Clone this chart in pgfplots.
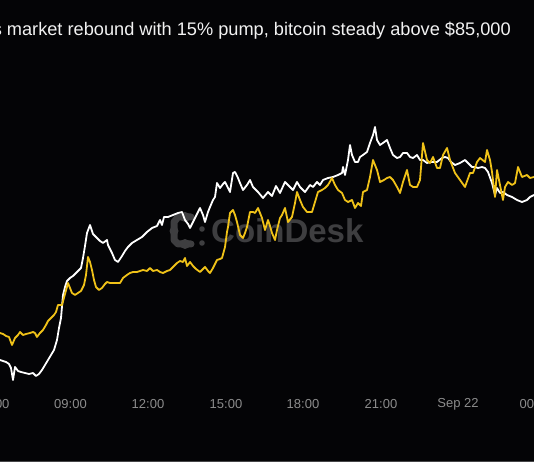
\documentclass[border=0pt]{standalone}
\usepackage{pgfplots}
\pgfplotsset{compat=1.18}
\usepackage{fontspec}
\setmainfont{Liberation Sans}
\definecolor{gold}{RGB}{240,194,24}
\definecolor{tickgray}{RGB}{140,140,140}
\definecolor{wm}{RGB}{62,62,64}
\definecolor{bg}{RGB}{4,4,6}
\pgfplotstableread{
x y
0 102
3 101
6 100
9 98
11 94
13 82
15 95
18 91
21 90
25 89
29 88
33 89
36 86
39 88
42 92
45 97
48 102
51 107
54 112
57 122
59 134
61 144
63 167
65 175
67 181
70 184
73 186
76 189
79 192
81 194
83 204
85 216
87 229
90 237
93 228
97 224
100 221
103 219
107 222
108 217
112 209
115 202
118 200
122 206
125 211
128 215
132 219
137 222
142 225
147 230
152 234
157 236
160 242
162 237
164 245
168 245
173 247
178 249
182 250
185 242
188 238
190 234
193 240
196 246
200 254
203 247
205 240
208 250
210 255
213 262
215 265
217 279
220 274
223 278
225 280
228 274
230 270
233 289
235 290
238 284
240 279
243 272
247 277
250 282
253 275
258 270
263 264
268 270
272 266
276 276
280 269
285 280
288 277
293 272
297 280
300 275
305 270
310 277
313 275
317 280
320 277
323 282
328 284
333 285
338 287
342 289
343 295
345 287
348 302
350 317
352 307
355 300
358 300
360 305
363 307
367 310
370 319
373 327
375 335
377 322
380 317
383 319
387 322
390 314
393 307
397 304
400 305
403 309
407 309
410 305
413 304
417 307
420 302
423 302
427 299
430 300
433 300
437 300
442 304
445 305
448 304
451 300
455 297
460 299
465 302
468 299
472 295
475 295
478 294
482 295
485 294
488 290
492 279
495 267
497 274
500 269
503 270
507 267
512 265
517 262
522 260
527 262
530 265
534 267
}\whiteline
\pgfplotstableread{
x y
0 129
3 128
6 126
9 125
12 117
15 124
18 127
20 130
23 127
26 128
30 129
33 130
35 129
37 125
40 129
43 132
46 137
48 141
51 144
54 147
56 150
58 157
62 157
65 168
68 179
70 174
72 169
75 167
78 169
81 171
84 177
86 187
88 205
90 200
92 192
94 182
96 175
99 172
102 174
105 178
107 180
110 179
113 179
117 179
120 179
123 184
127 187
130 189
133 190
137 190
140 191
143 192
147 191
150 194
153 191
157 192
160 190
163 189
167 191
170 192
174 196
177 199
180 201
183 200
185 204
187 196
190 200
193 196
196 193
200 190
203 193
205 195
208 191
210 189
213 194
217 202
220 203
222 204
225 215
227 230
228 235
230 249
233 252
235 247
237 240
240 227
243 224
245 229
247 235
250 250
253 250
255 249
258 254
262 244
265 232
268 242
270 236
272 229
275 222
277 232
280 244
282 247
285 254
288 240
292 245
295 259
297 270
300 262
303 255
307 250
312 250
315 260
318 270
322 272
325 274
328 277
332 284
335 277
338 272
342 269
345 262
348 260
352 262
355 254
358 259
361 256
363 270
367 272
370 285
373 302
377 292
380 280
384 282
387 284
390 285
393 282
397 275
400 269
403 280
407 292
410 277
413 275
417 275
420 282
423 319
427 302
430 299
433 305
437 294
440 294
443 307
447 314
450 302
455 289
460 282
465 275
470 289
473 289
477 300
480 304
485 300
487 312
490 302
492 290
495 265
497 292
500 277
503 262
505 275
508 280
512 277
515 279
518 295
522 285
527 287
530 284
534 285
}\goldline
\begin{document}
\begin{tikzpicture}[x=1pt,y=1pt]
\useasboundingbox (0,0) rectangle (534,462);
\fill[bg] (0,0) rectangle (534,462);
\clip (0,0) rectangle (534,462);
% bottom border
\draw[color={rgb,255:red,70;green,70;blue,72}, line width=0.8pt] (0,0.4) -- (534,0.4);
% watermark logo
\begin{scope}[wm]
\draw[line width=7pt, line cap=round, line join=round] (191,245) -- (178,245) -- (174,240) -- (174,222) -- (178,218) -- (191,218);
\fill (185,245) circle (5);
\fill (185,218) circle (5);
\fill (174,231) circle (4.5);
\fill (202,233) circle (2.8);
\fill (202,219) circle (2.8);
\end{scope}
\node[wm, font=\bfseries\fontsize{33}{33}\selectfont, anchor=base west, inner sep=0] at (211,219) {CoinDesk};
% title
\node[color={rgb,255:red,242;green,242;blue,242}, anchor=base east, font=\fontsize{18.2}{20}\selectfont, inner sep=0] at (511,426) {s market rebound with 15\% pump, bitcoin steady above \$85,000};
\begin{axis}[
  at={(-40pt,0pt)}, anchor=south west,
  scale only axis, width=614pt, height=462pt,
  xmin=-40, xmax=574, ymin=0, ymax=462,
  axis line style={draw=none}, tick style={draw=none},
  major tick length=0pt,
  ytick=\empty,
  xtick={-6.8,70.5,148,226,303,381,458,536},
  xticklabels={06:00,09:00,12:00,15:00,18:00,21:00,Sep 22,00:00},
  xticklabel style={anchor=center, yshift=58pt, text=tickgray, font=\fontsize{13}{13}\selectfont},
  clip=false,
]
\addplot[white, line width=1.8pt, line join=round] table[x=x,y=y] {\whiteline};
\addplot[gold, line width=1.8pt, line join=round] table[x=x,y=y] {\goldline};
\end{axis}
\end{tikzpicture}
\end{document}
